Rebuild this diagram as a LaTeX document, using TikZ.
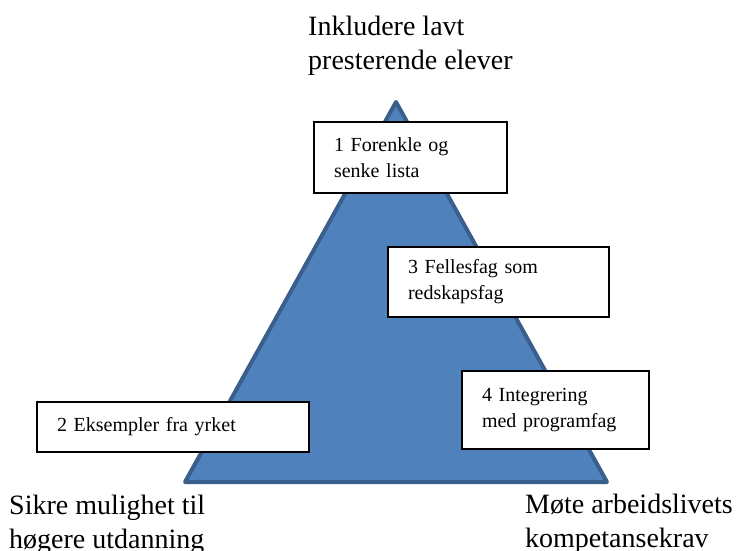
\documentclass[tikz,border=0pt]{standalone}
\usepackage{fontspec}
\setmainfont{Liberation Serif}
\definecolor{trifill}{HTML}{4F81BD}
\definecolor{triline}{HTML}{3A5F8D}
\begin{document}
\begin{tikzpicture}[x=1pt,y=-1pt,
  tri/.style={fill=trifill,draw=triline,line width=4pt,line join=round},
  card/.style={draw=black,fill=white,line width=1.3pt,rectangle,inner xsep=20pt,inner ysep=0pt,align=left,
    font=\fontsize{20}{26}\selectfont},
  biglabel/.style={anchor=west,align=left,inner sep=0pt,font=\fontsize{28}{34.5}\selectfont}]
\useasboundingbox (0,0) rectangle (740,551);
\fill[white] (0,0) rectangle (740,551);
% triangle
\coordinate (apex) at (396,102);
\coordinate (bl) at (185,482);
\coordinate (br) at (607,482);
\draw[tri] (apex) -- (bl) -- (br) -- cycle;
% boxes
\node[card,text width=153pt,minimum height=71pt] (b1) at (410.5,157.5) {1 Forenkle og\\senke lista};
\node[card,text width=181pt,minimum height=70pt] (b3) at (498.5,282) {3 Fellesfag som\\redskapsfag};
\node[card,text width=147pt,minimum height=78pt] (b4) at (555.5,410) {4 Integrering\\med programfag};
\node[card,text width=232pt,minimum height=50pt] (b2) at (173,427) {2 Eksempler fra yrket};
% labels
\node[biglabel] (top) at (308,46) {Inkludere lavt\\presterende elever};
\node[biglabel] (left) at (9,525) {Sikre mulighet til\\høgere utdanning};
\node[biglabel] (right) at (525,524) {Møte arbeidslivets\\kompetansekrav};
\end{tikzpicture}
\end{document}
